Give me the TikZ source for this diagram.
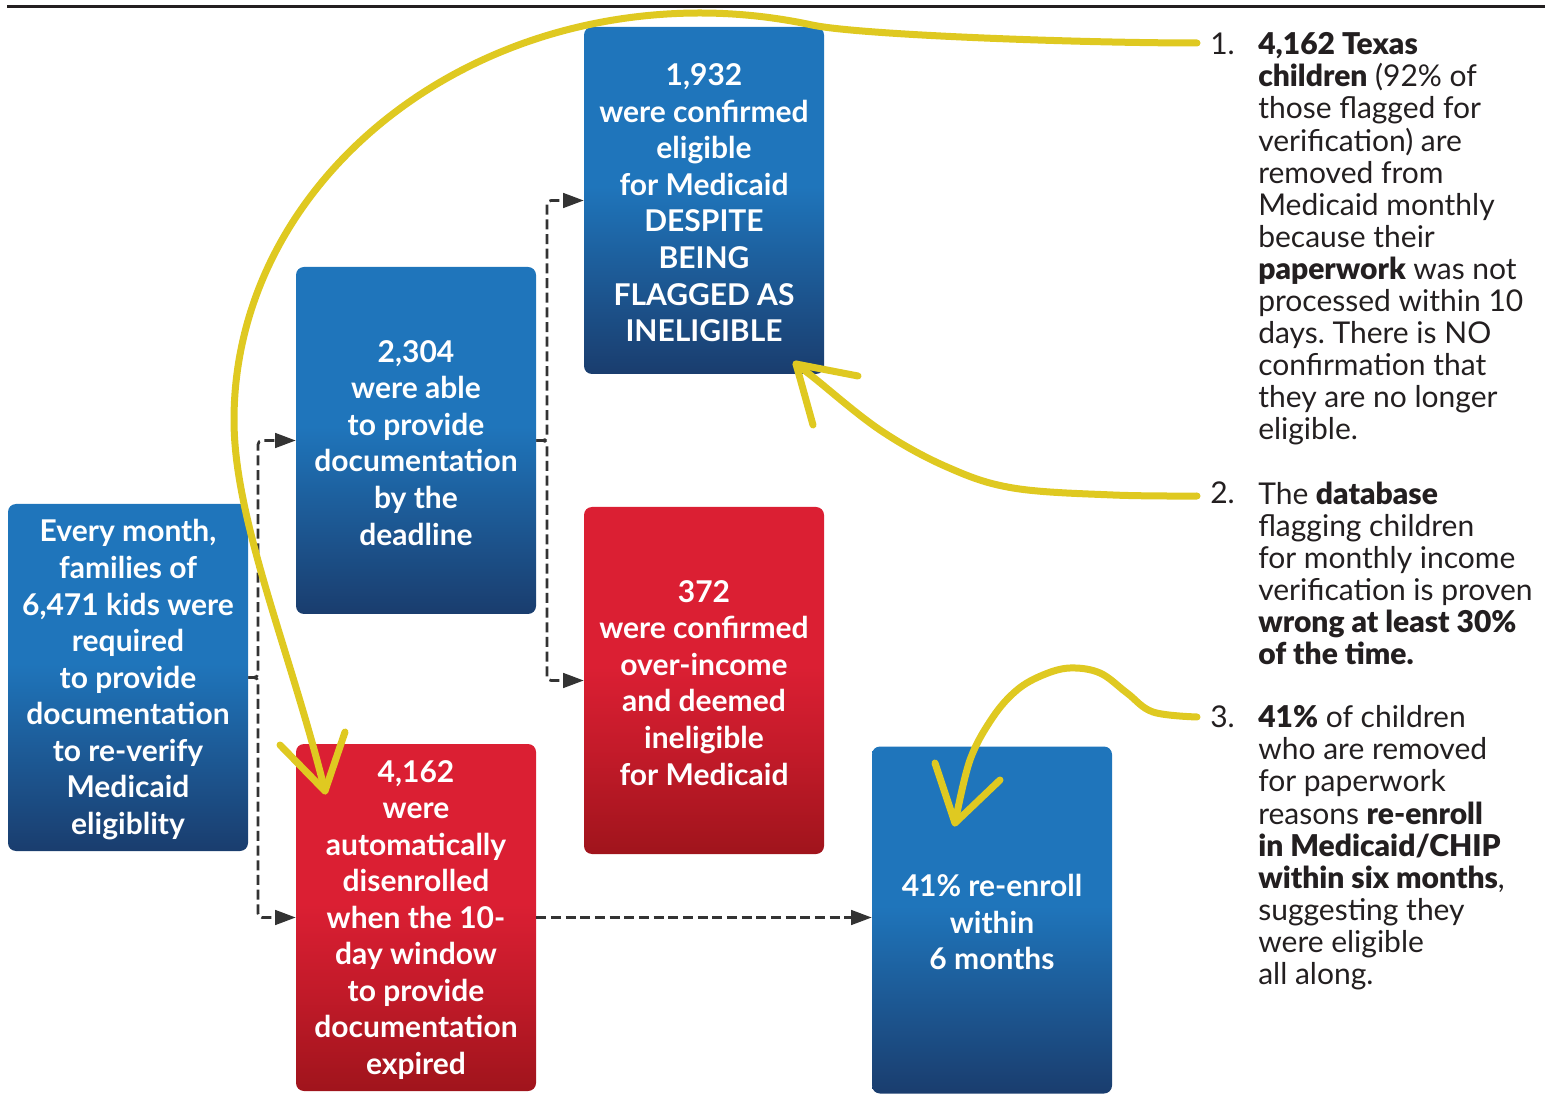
\documentclass[tikz,border=0pt]{standalone}
\usepackage{fontspec}
\setmainfont{Lato}
\IfFontExistsTF{Lato Black}{\newfontfamily\heavyfont{Lato Black}}{\newfontfamily\heavyfont{Lato}[UprightFont={* Bold}]}
\newcommand\hvy[1]{{\heavyfont #1}}
\newcommand\tp{\rule{0pt}{20pt}}
\frenchspacing
\usetikzlibrary{arrows.meta}
\definecolor{btop}{HTML}{1F75BB}
\definecolor{bbot}{HTML}{1A3D6E}
\definecolor{rtop}{HTML}{DB1F33}
\definecolor{rbot}{HTML}{A0141C}
\definecolor{yel}{HTML}{DFC921}
\definecolor{dk}{HTML}{333333}
\definecolor{txt}{HTML}{231F20}
\pgfdeclareverticalshading{blueshade}{100bp}{color(0bp)=(bbot); color(25bp)=(bbot); color(40bp)=(btop!55!bbot); color(52bp)=(btop); color(100bp)=(btop)}
\pgfdeclareverticalshading{redshade}{100bp}{color(0bp)=(rbot); color(25bp)=(rbot); color(40bp)=(rtop!60!rbot); color(52bp)=(rtop); color(100bp)=(rtop)}
\tikzset{
  box/.style={minimum width=180pt, minimum height=260.25pt, inner sep=0pt,
    rounded corners=6pt, text=white, align=center,
    font=\fontsize{22.5}{27.4}\selectfont\bfseries},
  bluebox/.style={box, shading=blueshade},
  redbox/.style={box, shading=redshade},
  conn/.style={draw=dk, line width=2pt, dash pattern=on 7.5pt off 3.5pt,
    rounded corners=3pt, -{Triangle[length=15.5pt,width=11pt]}},
  yarrow/.style={draw=yel, line width=5.25pt, line cap=round, line join=round},
  note/.style={anchor=north west, inner sep=0pt, align=left, text=txt,
    font=\fontsize{22.5}{24.05}\selectfont},
}
\begin{document}
\begin{tikzpicture}[x=0.75pt, y=-0.75pt]
\useasboundingbox (0,0) rectangle (1557,1094);
\draw[line width=2.25pt, color=txt] (7,7) -- (1545,7);

\node[bluebox] (A) at (128,677.5) {\tp Every month,\\families of\\6,471 kids were\\required\\to provide\\documentation\\to re-verify\\Medicaid\\eligiblity};
\node[bluebox] (B) at (416,440.5) {\tp 2,304\\were able\\to provide\\documentation\\by the\\deadline};
\node[bluebox] (C) at (704,200.5) {\tp 1,932\\were confirmed\\eligible\\for Medicaid\\\hvy{DESPITE}\\\hvy{BEING}\\\hvy{FLAGGED AS}\\\hvy{INELIGIBLE}};
\node[redbox] (D) at (704,680.5) {\tp 372\\were confirmed\\over-income\\and deemed\\ineligible\\for Medicaid};
\node[redbox] (E) at (416,917.5) {\tp 4,162\\were\\automatically\\disenrolled\\when the 10-\\day window\\to provide\\documentation\\expired};
\node[bluebox] (F) at (992,920) {\tp 41\% re-enroll\\within\\6 months};

\coordinate (jA) at (258,677.5);
\coordinate (jB) at (547,440.5);
\draw[conn] (A.east) -- (jA) |- (B.west);
\draw[conn] (A.east) -- (jA) |- (E.west);
\draw[conn] (B.east) -- (jB) |- (C.west);
\draw[conn] (B.east) -- (jB) |- (D.west);
\draw[conn] (E.east) -- (E.east -| F.west);

\node[note] (n1) at (1210,32.5) {1.};
\node[note] (t1) at (1258,32.5) {\hvy{4,162 Texas}\\\hvy{children} (92\% of\\those flagged for\\verification) are\\removed from\\Medicaid monthly\\because their\\\hvy{paperwork} was not\\processed within 10\\days. There is NO\\confirmation that\\they are no longer\\eligible.};
\node[note] (n2) at (1210,481.5) {2.};
\node[note] (t2) at (1258,481.5) {The \hvy{database}\\flagging children\\for monthly income\\verification is proven\\\hvy{wrong at least 30\%}\\\hvy{of the time.}};
\node[note] (n3) at (1210,705.5) {3.};
\node[note] (t3) at (1258,705.5) {\hvy{41\%} of children\\who are removed\\for paperwork\\reasons \hvy{re-enroll}\\\hvy{in Medicaid/CHIP}\\\hvy{within six months},\\suggesting they\\were eligible\\all along.};

\coordinate (s1) at (1197,43);
\coordinate (s2) at (1197,496);
\coordinate (s3) at (1197,717);
\coordinate (tip1) at (325,791);
\coordinate (tip2) at (796,364);
\coordinate (tip3) at (955,823);

\draw[yarrow] (s1) .. controls (1077,43) and (857,34.8) .. (812,25)
  .. controls (775.4,17.1) and (737.7,13) .. (700,13)
  .. controls (442.6,13) and (234,195.2) .. (234,420)
  .. controls (234,520) and (290,650) .. (tip1);
\draw[yarrow] (280,745) -- (tip1) -- (345,732);

\draw[yarrow] plot[smooth, tension=0.6] coordinates {(s2) (1113,495) (1013,488) (947,467) (880,430) (813,377) (tip2)};
\draw[yarrow] (858,376) -- (tip2) -- (813,425);

\draw[yarrow] plot[smooth, tension=0.6] coordinates {(s3) (1153,712) (1127,693) (1100,673) (1070,668) (1043,675) (1017,690) (993,717) (970,760) (tip3)};
\draw[yarrow] (935,763) -- (tip3) -- (1000,780);
\end{tikzpicture}
\end{document}
